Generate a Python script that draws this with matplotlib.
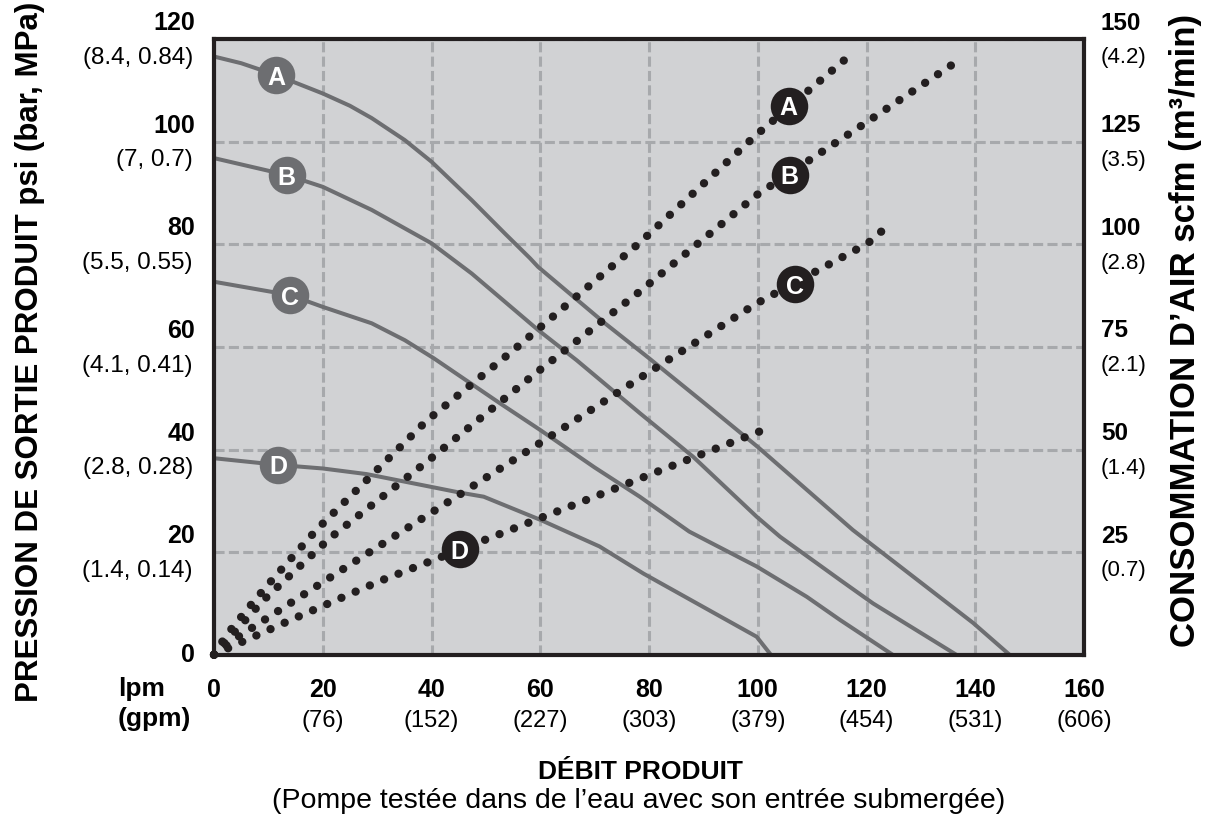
import matplotlib
matplotlib.use('Agg')
import matplotlib.pyplot as plt

# ── data ──
flow_ticks = [0, 20, 40, 60, 80, 100, 120, 140, 160]
flow_sub = ['', '(76)', '(152)', '(227)', '(303)', '(379)', '(454)', '(531)', '(606)']
psi_ticks = [0, 20, 40, 60, 80, 100, 120]
psi_sub = ['', '(1.4, 0.14)', '(2.8, 0.28)', '(4.1, 0.41)', '(5.5, 0.55)',
           '(7, 0.7)', '(8.4, 0.84)']
scfm_ticks = [25, 50, 75, 100, 125, 150]
scfm_sub = ['(0.7)', '(1.4)', '(2.1)', '(2.8)', '(3.5)', '(4.2)']

# pressure curves (flow, psi)
flow_A = [0, 5, 11.4, 20, 25, 29, 35.1, 40, 47.4, 53.5, 58.1, 59.6, 71.9, 80, 90,
          100, 117.5, 139.6, 146.3]
psi_A = [116.6, 115.3, 113, 109.4, 107, 104.6, 100.3, 96.1, 88.6, 82.1, 77.3, 75.6,
         64.6, 57.8, 49.2, 40.5, 24.3, 6.2, 0]
flow_B = [0, 13.4, 20, 29, 40, 47.4, 59.6, 66.7, 78.3, 88.1, 99.8, 104.1, 115.1,
          121.2, 136.5]
psi_B = [96.8, 93.5, 91.2, 86.7, 80.2, 74.3, 63.3, 57.4, 47.1, 38.6, 26.9, 23, 14.6,
         10, 0]
flow_C = [0, 14, 20, 29, 35.1, 40.4, 52.6, 60, 70, 78.3, 87.4, 99.8, 109, 115.1, 124.8]
psi_C = [72.7, 70.1, 67.8, 64.6, 61.3, 57.8, 49.0, 43.8, 36.5, 30.8, 24, 17.2, 11.3,
         6.8, 0]
flow_D = [0, 11.8, 20, 28.1, 40, 45.2, 49.6, 52.6, 56.3, 60, 70.9, 79, 99.8, 102.4]
psi_D = [38.3, 37, 36.3, 35.2, 32.7, 31.6, 30.8, 29.5, 27.9, 26.3, 21.1, 15.8, 3.5, 0]

# air consumption (flow, scfm)
air_flow_A = [0, 2.3, 7.5, 11.2, 18.9, 39.1, 54.7, 61.1, 78.3, 99.6, 117]
air_A = [0, 4.8, 13.3, 19, 30.5, 57, 73.8, 81, 100.4, 126.5, 146.1]
air_flow_B = [0, 9.1, 21.3, 39.6, 58.7, 78.3, 99.8, 119.4, 135.9]
air_B = [0, 13.3, 28.4, 47.5, 68.1, 88.5, 112, 129.2, 143.9]
air_flow_C = [0, 4.5, 9.4, 25.9, 42.8, 64.2, 78.3, 99.8, 120.2, 124.1]
air_C = [0, 4.4, 8.6, 22.7, 37, 55.2, 67.4, 85.6, 100.2, 104.7]
air_flow_D = [0, 4.8, 15.2, 30.6, 48.9, 70, 80.4, 93.6, 101.5]
air_D = [0, 2.9, 9.1, 18, 27.5, 38.5, 44, 50.9, 55]

# curve tags
tags = ['A', 'B', 'C', 'D']
tag_flow_psi = [11.4, 13.4, 14, 11.8]
tag_psi = [113, 93.5, 70.1, 37]
tag_flow_air = [105.7, 105.9, 106.8, 45.2]
tag_air = [133.7, 116.9, 90.3, 25.7]

BG = '#d1d2d4'
GRID = '#a7a9ac'
CURVE = '#6d6e71'
INK = '#231f20'
NARROW = ['Liberation Sans Narrow', 'Liberation Sans']
SANS = ['Liberation Sans']

W, H = 1209, 816
fig = plt.figure(figsize=(W / 100, H / 100), dpi=100)
x0, x1, y0, y1 = 214, 1084, 654.7, 39.1
ax = fig.add_axes([x0 / W, 1 - y0 / H, (x1 - x0) / W, (y0 - y1) / H])
ax.set_facecolor(BG)
ax.set_xlim(0, 160)
ax.set_ylim(0, 120)
ax.set_xticks(flow_ticks)
ax.set_yticks(psi_ticks)
ax.tick_params(length=0, labelbottom=False, labelleft=False)
ax.grid(True, ls=(0, (3.3, 1.4)), lw=2.2, color=GRID, zorder=0)
ax.set_axisbelow(True)
for sp in ax.spines.values():
    sp.set_linewidth(3)
    sp.set_color(INK)
    sp.set_zorder(10)

for fx, py in [(flow_A, psi_A), (flow_B, psi_B), (flow_C, psi_C), (flow_D, psi_D)]:
    ax.plot(fx, py, color=CURVE, lw=2.9, zorder=2, solid_joinstyle='round')

for t, fx, py in zip(tags, tag_flow_psi, tag_psi):
    ax.plot(fx, py, 'o', ms=27, color=CURVE, mec='none', zorder=4)
    ax.text(fx, py, t, color='white', ha='center', va='center_baseline',
            fontsize=18, fontweight='bold', family=NARROW, zorder=5)

ax2 = ax.twinx()
ax2.set_ylim(0, 150)
ax2.set_xlim(0, 160)
ax2.tick_params(length=0, labelright=False)
for sp in ax2.spines.values():
    sp.set_visible(False)

for fx, sc in [(air_flow_A, air_A), (air_flow_B, air_B),
               (air_flow_C, air_C), (air_flow_D, air_D)]:
    ax2.plot(fx, sc, color=INK, lw=6.0, ls=(0, (0.01, 1.85)),
             dash_capstyle='round', clip_on=False, zorder=3)

for t, fx, sc in zip(tags, tag_flow_air, tag_air):
    ax2.plot(fx, sc, 'o', ms=27, color=INK, mec='none', zorder=4)
    ax2.text(fx, sc, t, color='white', ha='center', va='center_baseline',
             fontsize=18, fontweight='bold', family=NARROW, zorder=5)

# ── left tick labels ──
for v, sub in zip(psi_ticks, psi_sub):
    if v == 0:
        ax.annotate('0', xy=(195 / W, v), xycoords=('figure fraction', 'data'),
                    ha='right', va='center', fontsize=18, fontweight='bold',
                    family=SANS, annotation_clip=False)
        continue
    ax.annotate(str(v), xy=(195 / W, v), xycoords=('figure fraction', 'data'),
                xytext=(0, 11.5), textcoords='offset points',
                ha='right', va='center', fontsize=18, fontweight='bold',
                family=SANS, annotation_clip=False)
    ax.annotate(sub, xy=(193 / W, v), xycoords=('figure fraction', 'data'),
                xytext=(0, -13.5), textcoords='offset points',
                ha='right', va='center', fontsize=17.5,
                family=SANS, annotation_clip=False)

# ── right tick labels ──
for v, sub in zip(scfm_ticks, scfm_sub):
    ax2.annotate(str(v), xy=(1101 / W, v), xycoords=('figure fraction', 'data'),
                 xytext=(0, 11.5), textcoords='offset points',
                 ha='left', va='center', fontsize=17.5, fontweight='bold',
                 family=SANS, annotation_clip=False)
    ax2.annotate(sub, xy=(1101 / W, v), xycoords=('figure fraction', 'data'),
                 xytext=(0, -13.5), textcoords='offset points',
                 ha='left', va='center', fontsize=16,
                 family=SANS, annotation_clip=False)

# ── bottom tick labels ──
for v, sub in zip(flow_ticks, flow_sub):
    ax.annotate(str(v), xy=(v, 1 - 690 / H), xycoords=('data', 'figure fraction'),
                ha='center', va='center', fontsize=18, fontweight='bold',
                family=NARROW, annotation_clip=False)
    if sub:
        ax.annotate(sub, xy=(v, 1 - 721 / H), xycoords=('data', 'figure fraction'),
                    ha='center', va='center', fontsize=17,
                    family=NARROW, annotation_clip=False)

fig.text(118 / W, 1 - 689 / H, 'lpm', ha='left', va='center', fontsize=19,
         fontweight='bold', family=SANS)
fig.text(118 / W, 1 - 719 / H, '(gpm)', ha='left', va='center', fontsize=19,
         fontweight='bold', family=SANS)

fig.text(640 / W, 1 - 772 / H, 'DÉBIT PRODUIT', ha='center', va='center',
         fontsize=19, fontweight='bold', family=SANS)
fig.text(639 / W, 1 - 801 / H,
         '(Pompe testée dans de l’eau avec son entrée submergée)',
         ha='center', va='center', fontsize=20.5, family=SANS)

fig.text(30 / W, 1 - 352 / H, 'PRESSION DE SORTIE PRODUIT psi (bar, MPa)',
         rotation=90, ha='center', va='center', fontsize=22.5, fontweight='bold',
         family=NARROW)
fig.text(1185 / W, 1 - 330 / H, 'CONSOMMATION D’AIR scfm (m³/min)',
         rotation=90, ha='center', va='center', fontsize=25, fontweight='bold',
         family=NARROW)

fig.savefig('out.png', dpi=100)
